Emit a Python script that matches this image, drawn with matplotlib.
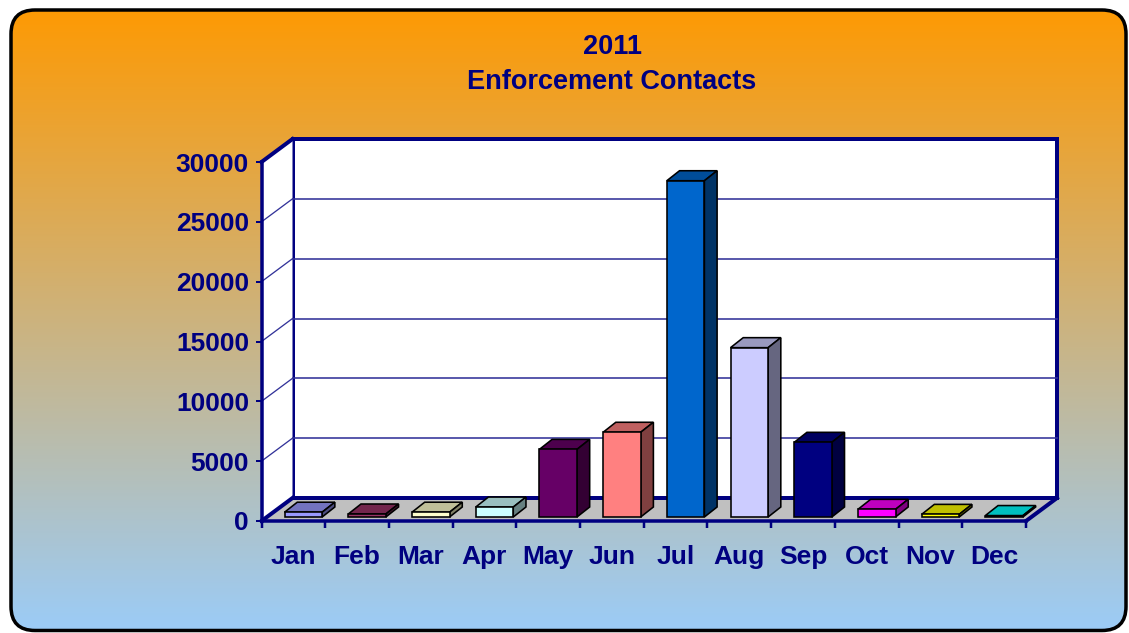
import numpy as np
import matplotlib
matplotlib.use('Agg')
import matplotlib.pyplot as plt
from matplotlib.patches import Polygon, FancyBboxPatch
from matplotlib.lines import Line2D
from matplotlib.transforms import IdentityTransform, ScaledTranslation

# ---------------- data ----------------
months = ['Jan', 'Feb', 'Mar', 'Apr', 'May', 'Jun', 'Jul', 'Aug', 'Sep', 'Oct', 'Nov', 'Dec']
contacts = [400, 250, 400, 830, 5650, 7080, 28100, 14150, 6240, 640, 220, 120]
bar_colors = ['#9999FF', '#993366', '#FFFFCC', '#CCFFFF', '#660066', '#FF8080',
              '#0066CC', '#CCCCFF', '#000080', '#FF00FF', '#FFFF00', '#00FFFF']
y_ticks = [0, 5000, 10000, 15000, 20000, 25000, 30000]
title_lines = ['2011', 'Enforcement Contacts']

# ---------------- style ----------------
plt.rcParams['font.family'] = ['Liberation Sans', 'DejaVu Sans']
plt.rcParams['font.weight'] = 'bold'
NAVY = '#000080'
GRID = '#333399'
W, H, DPI = 1129, 633, 100
PT = 72.0 / DPI          # points per pixel
DEPTH = (31, 23)         # wall depth vector in px
BAR_OFF = (10, 4)        # bar front face offset in px
BAR_DEPTH = (12.7, 10)   # bar depth in px
BAR_W = 0.59

fig = plt.figure(figsize=(W / DPI, H / DPI), dpi=DPI)
fig.patch.set_facecolor('white')

# ---------------- background ----------------
bg = fig.add_axes([0, 0, 1, 1])
bg.set_xlim(0, W)
bg.set_ylim(0, H)
bg.axis('off')
t = np.linspace(0, 1, 512)[:, None, None]
c_top = np.array([255, 153, 0]) / 255.0
c_bot = np.array([155, 204, 248]) / 255.0
img = c_top[None, None, :] * (1 - t) + c_bot[None, None, :] * t
im = bg.imshow(img, extent=(0, W, 0, H), origin='upper', aspect='auto', zorder=0)
box = FancyBboxPatch((11, 2.5), 1115, 620.5, boxstyle='round,pad=0,rounding_size=24',
                     facecolor='none', edgecolor='black', linewidth=3.5 * PT, zorder=2)
bg.add_patch(box)
im.set_clip_path(box)

# ---------------- main (front plane) axes ----------------
left, right, bottom, top = 261.5, 1026, 112, 471
ax = fig.add_axes([left / W, bottom / H, (right - left) / W, (top - bottom) / H])
ax.set_facecolor('none')
n = len(months)
x = np.arange(n)
xmin, xmax = -0.5, n - 0.5
ymax = y_ticks[-1]

bar_tr = ax.transData + ScaledTranslation(BAR_OFF[0] / DPI, BAR_OFF[1] / DPI, fig.dpi_scale_trans)
ax.bar(x, contacts, width=BAR_W, color=bar_colors, edgecolor='black',
       linewidth=1.6 * PT, transform=bar_tr, zorder=5, clip_on=False)
ax.set_xlim(xmin, xmax)
ax.set_ylim(0, ymax)


def P(xv, yv, d=0.0, off=(0.0, 0.0)):
    px, py = ax.transData.transform((xv, yv))
    return (px + d * DEPTH[0] + off[0], py + d * DEPTH[1] + off[1])


def poly(pts, **kw):
    p = Polygon(pts, closed=True, transform=IdentityTransform(), clip_on=False, **kw)
    ax.add_patch(p)
    return p


def line(p0, p1, **kw):
    l = Line2D([p0[0], p1[0]], [p0[1], p1[1]], transform=IdentityTransform(),
               clip_on=False, **kw)
    ax.add_line(l)


# walls and floor
poly([P(xmin, 0, 0), P(xmax, 0, 0), P(xmax, 0, 1), P(xmin, 0, 1)],
     facecolor='#C0C0C0', edgecolor='none', zorder=1)
poly([P(xmin, 0, 1), P(xmax, 0, 1), P(xmax, ymax, 1), P(xmin, ymax, 1)],
     facecolor='white', edgecolor=NAVY, linewidth=4 * PT, zorder=1)
poly([P(xmin, 0, 0), P(xmin, ymax, 0), P(xmin, ymax, 1), P(xmin, 0, 1)],
     facecolor='white', edgecolor='none', zorder=1)

for v in y_ticks[1:-1]:
    line(P(xmin, v, 1), P(xmax, v, 1), color=GRID, linewidth=1.6 * PT, zorder=1.5)
    line(P(xmin, v, 0), P(xmin, v, 1), color=GRID, linewidth=1.3 * PT, zorder=1.5)

line(P(xmin, ymax, 0), P(xmin, ymax, 1), color=NAVY, linewidth=4 * PT, zorder=2)
line(P(xmin, 0, 0), P(xmin, 0, 1), color=NAVY, linewidth=4 * PT, zorder=2)
line(P(xmax, 0, 0), P(xmax, 0, 1), color=NAVY, linewidth=4 * PT, zorder=2)


def shade(c, f):
    r, g, b = matplotlib.colors.to_rgb(c)
    return (r * f, g * f, b * f)


# 3-D faces of bars
o0 = BAR_OFF
o1 = (BAR_OFF[0] + BAR_DEPTH[0], BAR_OFF[1] + BAR_DEPTH[1])
for xi, v, c in zip(x, contacts, bar_colors):
    xl, xr = xi - BAR_W / 2, xi + BAR_W / 2
    poly([P(xl, v, off=o0), P(xr, v, off=o0), P(xr, v, off=o1), P(xl, v, off=o1)],
         facecolor=shade(c, 0.75), edgecolor='black', linewidth=1.6 * PT, zorder=4)
    poly([P(xr, 0, off=o0), P(xr, v, off=o0), P(xr, v, off=o1), P(xr, 0, off=o1)],
         facecolor=shade(c, 0.5), edgecolor='black', linewidth=1.6 * PT, zorder=4)

# axes styling
for s in ['top', 'right']:
    ax.spines[s].set_visible(False)
for s in ['left', 'bottom']:
    ax.spines[s].set_color(NAVY)
    ax.spines[s].set_linewidth(3.5 * PT)
    ax.spines[s].set_zorder(3)

ax.set_yticks(y_ticks)
ax.set_yticklabels([str(v) for v in y_ticks])
ax.tick_params(axis='y', colors=NAVY, labelcolor=NAVY, labelsize=19,
               length=4, width=2 * PT, pad=5)
ax.set_xticks(x)
ax.set_xticklabels(months)
ax.set_xticks(np.arange(xmin, xmax + 0.01, 1.0), minor=True)
ax.tick_params(axis='x', which='major', length=0, labelcolor=NAVY, labelsize=19, pad=17)
ax.tick_params(axis='x', which='minor', length=5, width=2.5 * PT, color=NAVY)

# title
fig.text(612 / W, 1 - 47 / H, title_lines[0], ha='center', va='center',
         color=NAVY, fontsize=19.5, fontweight='bold')
fig.text(612 / W, 1 - 82 / H, title_lines[1], ha='center', va='center',
         color=NAVY, fontsize=19.5, fontweight='bold')

fig.savefig('out.png', dpi=DPI, facecolor='white')
